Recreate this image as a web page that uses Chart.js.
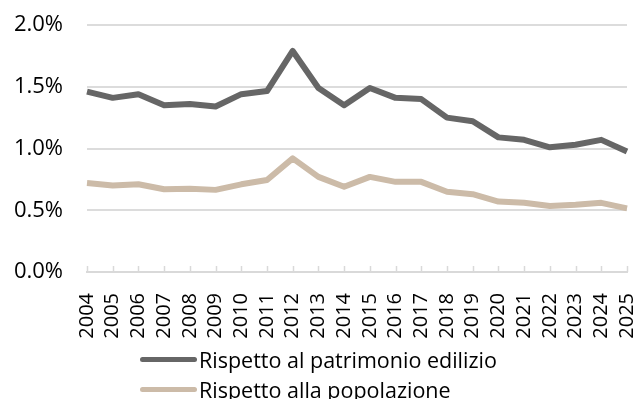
<!DOCTYPE html>
<html>
<head>
<meta charset="utf-8">
<script src="https://cdn.jsdelivr.net/npm/chart.js@4.4.0/dist/chart.umd.min.js"></script>
<style>
    html, body { margin: 0; padding: 0; background: #ffffff; }
    #wrap { position: relative; width: 637px; height: 399px; overflow: hidden; }
    #myChart { position: absolute; left: 0; top: 0; }
    .legend { position: absolute; left: 140px; font-family: "Open Sans", sans-serif; font-size: 21.5px; color: #000; }
    .legend-item { position: absolute; left: 0; white-space: nowrap; display: flex; align-items: center; height: 30px; }
    .swatch { width: 57px; height: 5px; border-radius: 3px; margin-right: 2px; }
</style>
</head>
<body>
<div id="wrap">
    <canvas id="myChart" width="637" height="345"></canvas>
    <div class="legend" id="legend"></div>
</div>
<script>
const years = ['2004', '2005', '2006', '2007', '2008', '2009', '2010', '2011', '2012', '2013', '2014',
    '2015', '2016', '2017', '2018', '2019', '2020', '2021', '2022', '2023', '2024', '2025'];
const patrimonio = [1.46, 1.41, 1.44, 1.35, 1.36, 1.34, 1.44, 1.465, 1.79, 1.49, 1.35,
    1.49, 1.41, 1.40, 1.25, 1.22, 1.09, 1.07, 1.01, 1.03, 1.07, 0.975];
const popolazione = [0.72, 0.70, 0.71, 0.67, 0.675, 0.665, 0.71, 0.745, 0.92, 0.77, 0.69,
    0.77, 0.73, 0.73, 0.65, 0.63, 0.57, 0.56, 0.535, 0.545, 0.56, 0.515];
const seriesNames = ['Rispetto al patrimonio edilizio', 'Rispetto alla popolazione'];
const seriesColors = ['#666666', '#ccbba8'];

document.addEventListener('DOMContentLoaded', function() {
    const ctx = document.getElementById('myChart');

    // small tick marks pointing up into the plot, at each category
    const insideTicks = {
        id: 'insideTicks',
        beforeDatasetsDraw(chart) {
            const x = chart.scales.x;
            const c = chart.ctx;
            c.save();
            c.strokeStyle = '#d9d9d9';
            c.lineWidth = 1.5;
            c.beginPath();
            x.ticks.forEach((t, i) => {
                const px = Math.round(x.getPixelForTick(i)) + 0.5;
                c.moveTo(px, x.top - 6);
                c.lineTo(px, x.top);
            });
            c.stroke();
            c.restore();
        }
    };

    new Chart(ctx, {
        type: 'line',
        data: {
            labels: years,
            datasets: [{
                label: seriesNames[0],
                data: patrimonio,
                borderColor: seriesColors[0],
                borderWidth: 6,
                pointRadius: 0,
                tension: 0,
                borderJoinStyle: 'round'
            }, {
                label: seriesNames[1],
                data: popolazione,
                borderColor: seriesColors[1],
                borderWidth: 6,
                pointRadius: 0,
                tension: 0,
                borderJoinStyle: 'round'
            }]
        },
        options: {
            responsive: false,
            animation: false,
            layout: {
                padding: { left: 0, right: 10, top: 25, bottom: 0 }
            },
            scales: {
                x: {
                    offset: false,
                    grid: { display: false, drawTicks: false },
                    border: { display: true, color: '#d9d9d9', width: 2 },
                    ticks: {
                        autoSkip: false,
                        minRotation: 90,
                        maxRotation: 90,
                        padding: 21,
                        color: '#000000',
                        font: { family: 'Open Sans', size: 20 }
                    },
                    afterFit: function(scale) {
                        scale.height = 73;
                        scale.paddingLeft = 0;
                        scale.paddingRight = 0;
                    }
                },
                y: {
                    min: 0,
                    max: 2,
                    grid: { color: '#dcdcdc', lineWidth: 2, drawTicks: false },
                    border: { display: false },
                    ticks: {
                        stepSize: 0.5,
                        padding: 24,
                        color: '#000000',
                        font: { family: 'Open Sans', size: 22 },
                        callback: function(v) { return v.toFixed(1) + '%'; }
                    },
                    afterFit: function(scale) {
                        scale.width = 87;
                        scale.paddingTop = 0;
                        scale.paddingBottom = 0;
                    }
                }
            },
            plugins: {
                legend: { display: false },
                tooltip: { enabled: false }
            }
        },
        plugins: [insideTicks]
    });

    /* legend, two rows, left aligned */
    const legend = document.getElementById('legend');
    const rowTops = [344, 374];
    seriesNames.forEach((name, i) => {
        const item = document.createElement('div');
        item.className = 'legend-item';
        item.style.top = rowTops[i] + 'px';
        item.innerHTML = '<span class="swatch" style="background:' + seriesColors[i] + '"></span><span>' + name + '</span>';
        legend.appendChild(item);
    });
});
</script>
</body>
</html>
